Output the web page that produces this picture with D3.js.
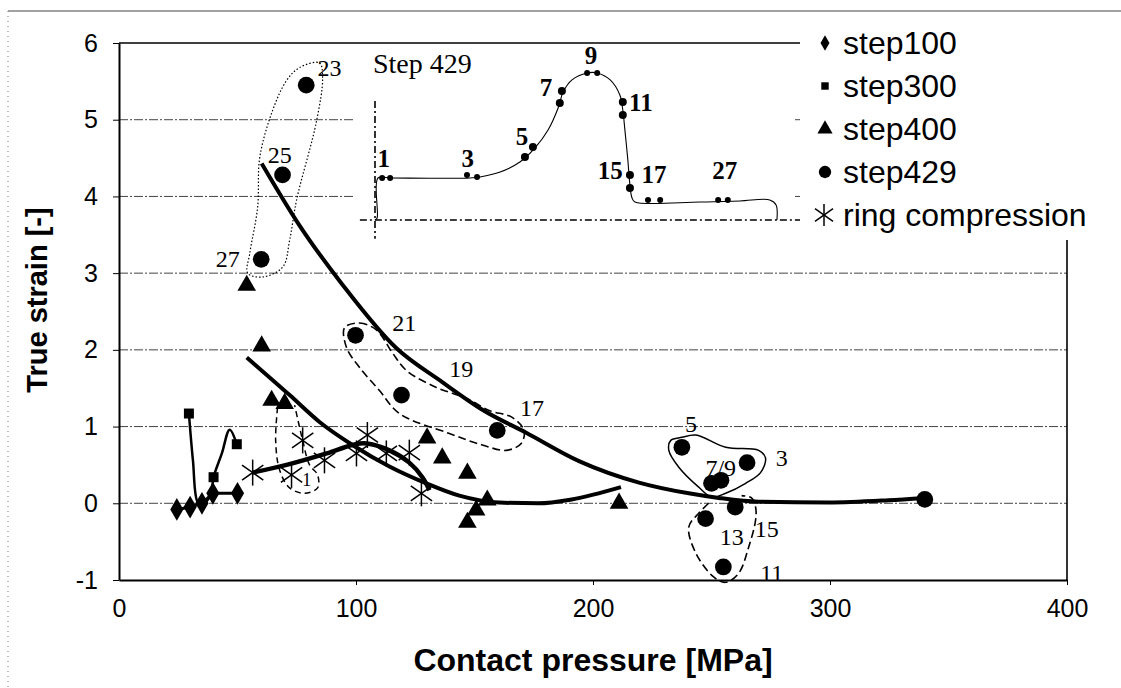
<!DOCTYPE html>
<html>
<head>
<meta charset="utf-8">
<script src="https://cdn.jsdelivr.net/npm/d3@7/dist/d3.min.js"></script>
<style>
  body { margin: 0; background: #fff; }
  svg text { fill: #000; }
</style>
</head>
<body>
<svg id="chart" width="1121" height="688"></svg>
<script>
// ---- data ----
const step100X = [24.4, 30, 35, 39.6, 50];
const step100Y = [-0.08, -0.05, 0.0, 0.13, 0.13];

const step300LineX = [29.5, 31.2, 33.3, 35.4, 38.6, 39.9, 43.4, 46.7, 49.7];
const step300LineY = [1.17, 0.56, 0.01, 0.0, 0.1, 0.34, 0.65, 0.96, 0.77];
const step300X = [29.5, 39.9, 49.7];
const step300Y = [1.17, 0.34, 0.77];

const step400X = [53.9, 60.2, 64.4, 69.9, 130, 136.4, 147, 155.4, 150.7, 147, 211];
const step400Y = [2.84, 2.05, 1.34, 1.30, 0.85, 0.59, 0.39, 0.04, -0.09, -0.25, 0.0];

const step429X = [79, 69, 60, 99.8, 119.2, 159.6, 237.5, 265, 250, 254, 247.5, 260, 255, 340];
const step429Y = [5.45, 4.28, 3.18, 2.19, 1.41, 0.95, 0.73, 0.53, 0.26, 0.30, -0.2, -0.05, -0.83, 0.05];

const ringX = [56.4, 72.8, 77.5, 86.7, 100.2, 104.8, 112.8, 122.5, 127.6];
const ringY = [0.40, 0.37, 0.82, 0.56, 0.65, 0.89, 0.65, 0.66, 0.13];
const ringLineX = [56.4, 70.7, 87.6, 98.5, 104.4, 114.1, 122.5, 128, 131];
const ringLineY = [0.40, 0.50, 0.65, 0.76, 0.78, 0.69, 0.53, 0.34, 0.17];

// trend curves
const fit429X = [60.2, 76.2, 94.3, 117.1, 136.4, 153.3, 171.8, 194.1, 219.4, 240.4, 253.1, 269.9, 299.4, 324.6, 339.8];
const fit429Y = [4.43, 3.62, 2.85, 2.02, 1.58, 1.22, 0.92, 0.55, 0.27, 0.13, 0.07, 0.02, 0.01, 0.04, 0.07];
const fit400X = [53.9, 72, 84.6, 98.5, 114.1, 129.7, 143.6, 160.4, 177, 191, 211.8];
const fit400Y = [1.90, 1.41, 1.06, 0.76, 0.48, 0.26, 0.10, 0.01, 0.0, 0.05, 0.21];

// annotation labels (step429 point numbers)
const noteText = ['23', '25', '27', '21', '19', '17', '5', '3', '7/9', '13', '15', '11', '1'];
const noteX = [88.8, 67.8, 45.9, 120.4, 144.4, 174.3, 241.3, 279.6, 253.9, 258.5, 273.3, 275.4, 79.2];
const noteY = [5.67, 4.54, 3.19, 2.35, 1.75, 1.24, 1.04, 0.59, 0.46, -0.44, -0.33, -0.91, 0.33];

// hand-drawn groupings
const loopDotX = [76.2, 84.6, 85.9, 83.4, 74.9, 72.0, 69.1, 60.6, 54.3, 55.2, 58.5, 59.4, 64.8, 70.7];
const loopDotY = [5.68, 5.74, 5.55, 4.99, 3.95, 3.43, 3.08, 2.95, 3.00, 3.26, 3.86, 4.51, 5.12, 5.51];
const loopMidX = [95.2, 101.5, 108.6, 115.4, 121.3, 133.9, 146.5, 156.2, 165.9, 170.9, 169.7, 163.4, 153.3, 139.4, 118.3, 109.9, 101.5, 96.0];
const loopMidY = [2.29, 2.35, 2.26, 1.96, 1.73, 1.51, 1.37, 1.21, 1.12, 0.95, 0.78, 0.69, 0.76, 0.91, 1.17, 1.47, 1.77, 2.03];
const loopTopX = [237.5, 243.4, 256.0, 269.9, 272.8, 270.7, 264.4, 256.0, 250.1, 244.6, 236.2, 232.0, 232.8];
const loopTopY = [0.86, 0.89, 0.73, 0.69, 0.59, 0.40, 0.26, 0.13, 0.08, 0.21, 0.47, 0.69, 0.82];
const loopLowX = [248.8, 244.6, 240.4, 243.4, 250.9, 256.0, 261.5, 265.7, 268.6, 268.6, 266.9, 262.7];
const loopLowY = [0.0, -0.13, -0.31, -0.65, -0.96, -1.03, -0.91, -0.57, -0.22, -0.05, 0.07, 0.10];
const loopOneX = [66.9, 66.1, 67.8, 72.0, 78.3, 83.8, 83.8, 80.4, 77.5, 74.1];
const loopOneY = [1.25, 0.82, 0.43, 0.20, 0.13, 0.20, 0.37, 0.50, 0.82, 1.28];

// inset "Step 429" (inset units 0..100)
const insetCurveX = [0, 0.5, 0.7, 3.6, 22.6, 25, 29.8, 34.5, 38.1, 41.2, 43.6, 44.8, 46.9, 50.5, 52.9, 56, 58.3, 59, 59.5, 60.2, 60.7, 61.2, 61.9, 77.4, 86.9, 94, 95.5, 95.7];
const insetCurveY = [0, 1.2, 24.7, 24.7, 24.7, 25.3, 28.2, 34.1, 42.4, 52.9, 65.9, 75.3, 82.4, 86.5, 86.5, 82.4, 73.5, 64.7, 52.9, 35.3, 20.6, 12.9, 10.6, 10.6, 11.2, 11.8, 8.8, 0];
const insetDotX = [1.7, 3.6, 21.9, 24.3, 35.7, 37.6, 44, 44.5, 50.5, 52.9, 59, 59, 60.7, 60.7, 65, 67.9, 81.7, 84];
const insetDotY = [24.7, 24.7, 26.5, 25.3, 37.1, 42.9, 68.8, 75.9, 86.5, 86.5, 69.4, 61.8, 26.5, 18.8, 11.8, 11.8, 11.8, 11.8];
const insetDotBig = [0, 0, 0, 0, 1, 1, 1, 1, 0, 0, 1, 1, 1, 1, 0, 0, 0, 0];
const insetLabel = ['1', '3', '5', '7', '9', '11', '15', '17', '27'];
const insetLabelX = [2.1, 22.1, 35, 40.7, 51.4, 63.3, 56, 66.4, 83.3];
const insetLabelY = [31, 31, 44, 73, 92, 64, 24, 22, 24];

const legendNames = ['step100', 'step300', 'step400', 'step429', 'ring compression'];
const yTicks = [-1, 0, 1, 2, 3, 4, 5, 6];
const xTicks = [0, 100, 200, 300, 400];

// ---- drawing ----
const SANS = 'Arial, "Liberation Sans", sans-serif';
const SERIF = '"Times New Roman", "Liberation Serif", serif';

const svg = d3.select('#chart');
const x = d3.scaleLinear().domain([0, 400]).range([119, 1067]);
const y = d3.scaleLinear().domain([-1, 6]).range([580, 43]);
const zip = (xs, ys) => xs.map((v, i) => [v, ys[i]]);
const line = d3.line().x(d => x(d[0])).y(d => y(d[1]));

// page frame bits from the scan
svg.append('line').attr('x1', 8).attr('x2', 1121).attr('y1', 11).attr('y2', 11)
  .attr('stroke', '#444').attr('stroke-width', 1.2);
svg.append('line').attr('x1', 8).attr('x2', 8).attr('y1', 11).attr('y2', 688)
  .attr('stroke', '#777').attr('stroke-dasharray', '1,4');

// grid
svg.append('g')
  .selectAll('line')
  .data(yTicks.filter(t => t > -1 && t < 6))
  .join('line')
  .attr('x1', x(0)).attr('x2', x(400))
  .attr('y1', d => y(d)).attr('y2', d => y(d))
  .attr('stroke', '#444').attr('stroke-width', 1)
  .attr('stroke-dasharray', '9,2,2,2');

// axes
const yAxis = svg.append('g')
  .attr('transform', `translate(${x(0)},0)`)
  .call(d3.axisLeft(y).tickValues(yTicks).tickFormat(d => String(d))
    .tickSize(6).tickPadding(15).tickSizeOuter(0));
const xAxis = svg.append('g')
  .attr('transform', `translate(0,${y(-1)})`)
  .call(d3.axisBottom(x).tickValues(xTicks).tickFormat(d => String(d))
    .tickSize(5).tickPadding(14).tickSizeOuter(0));
[yAxis, xAxis].forEach(g => {
  g.select('.domain').attr('stroke', '#000').attr('stroke-width', 2);
  g.selectAll('.tick line').attr('stroke', '#000');
  g.selectAll('text').attr('font-family', SANS).attr('font-size', 25).attr('fill', '#000');
});
xAxis.selectAll('.tick').filter(d => d === 0).select('line').remove();

// top (6) line and right border
svg.append('line').attr('x1', x(0)).attr('x2', 800).attr('y1', y(6)).attr('y2', y(6))
  .attr('stroke', '#000').attr('stroke-width', 1.6);
svg.append('line').attr('x1', x(400)).attr('x2', x(400)).attr('y1', 240).attr('y2', y(-1))
  .attr('stroke', '#000').attr('stroke-width', 1.6);

// axis titles
svg.append('text')
  .attr('x', (x(0) + x(400)) / 2).attr('y', 671)
  .attr('text-anchor', 'middle')
  .attr('font-family', SANS).attr('font-weight', 'bold').attr('font-size', 32)
  .text('Contact pressure [MPa]');
svg.append('text')
  .attr('transform', 'translate(47,300) rotate(-90)')
  .attr('text-anchor', 'middle')
  .attr('font-family', SANS).attr('font-weight', 'bold').attr('font-size', 29)
  .text('True strain [-]');

// ---- inset ----
svg.append('rect').attr('x', 355).attr('y', y(6) + 1).attr('width', 440).attr('height', 200)
  .attr('fill', '#fff');
const ix = d3.scaleLinear().domain([0, 100]).range([375, 795]);
const iy = d3.scaleLinear().domain([0, 100]).range([220, 50]);
const inset = svg.append('g');
inset.append('line').attr('x1', ix(0)).attr('x2', ix(0)).attr('y1', iy(70)).attr('y2', iy(-11))
  .attr('stroke', '#000').attr('stroke-width', 1.6).attr('stroke-dasharray', '7,3,2,3');
inset.append('line').attr('x1', ix(-3.6)).attr('x2', ix(102)).attr('y1', iy(0)).attr('y2', iy(0))
  .attr('stroke', '#000').attr('stroke-width', 1.6).attr('stroke-dasharray', '7,3,2,3');
inset.append('path')
  .attr('d', d3.line().x(d => ix(d[0])).y(d => iy(d[1])).curve(d3.curveCatmullRom.alpha(0.5))(zip(insetCurveX, insetCurveY)))
  .attr('fill', 'none').attr('stroke', '#000').attr('stroke-width', 1.1);
inset.selectAll('circle')
  .data(zip(insetDotX, insetDotY))
  .join('circle')
  .attr('cx', d => ix(d[0])).attr('cy', d => iy(d[1]))
  .attr('r', (d, i) => insetDotBig[i] ? 4 : 3);
inset.selectAll('text.num')
  .data(insetLabel)
  .join('text')
  .attr('class', 'num')
  .attr('x', (d, i) => ix(insetLabelX[i])).attr('y', (d, i) => iy(insetLabelY[i]))
  .attr('font-family', SERIF).attr('font-weight', 'bold').attr('font-size', 25)
  .attr('text-anchor', 'middle')
  .text(d => d);
inset.append('text').attr('x', 373).attr('y', 73)
  .attr('font-family', SERIF).attr('font-size', 28)
  .text('Step 429');

// ---- legend ----
svg.append('rect').attr('x', 800).attr('y', 12).attr('width', 321).attr('height', 226).attr('fill', '#fff');
const symbols = [d3.symbolDiamond, d3.symbolSquare, d3.symbolTriangle, d3.symbolCircle, null];
const legend = svg.append('g').attr('transform', 'translate(825,0)');
legendNames.forEach((name, i) => {
  const cy = 43 + i * 43;
  if (symbols[i]) {
    legend.append('path')
      .attr('transform', `translate(0,${cy})`)
      .attr('d', d3.symbol().type(symbols[i]).size([70, 55, 100, 120][i])());
  } else {
    drawStar(legend, -1, cy, 11);
  }
  legend.append('text').attr('x', 18).attr('y', cy + 11)
    .attr('font-family', SANS).attr('font-size', 32)
    .text(name);
});

function drawStar(g, cx, cy, r) {
  const s = g.append('g').attr('transform', `translate(${cx},${cy})`)
    .attr('stroke', '#000').attr('stroke-width', 1.5);
  [90, 35, -35].forEach(a => {
    const rad = a * Math.PI / 180;
    s.append('line')
      .attr('x1', -r * Math.cos(rad)).attr('y1', -r * Math.sin(rad))
      .attr('x2', r * Math.cos(rad)).attr('y2', r * Math.sin(rad));
  });
}

// ---- groupings ----
const closed = d3.line().x(d => x(d[0])).y(d => y(d[1])).curve(d3.curveCatmullRomClosed.alpha(0.5));
const open = d3.line().x(d => x(d[0])).y(d => y(d[1])).curve(d3.curveCatmullRom.alpha(0.5));
svg.append('path').attr('d', closed(zip(loopDotX, loopDotY)))
  .attr('fill', 'none').attr('stroke', '#000').attr('stroke-width', 1.2).attr('stroke-dasharray', '1.5,2');
svg.append('path').attr('d', closed(zip(loopMidX, loopMidY)))
  .attr('fill', 'none').attr('stroke', '#000').attr('stroke-width', 1.6).attr('stroke-dasharray', '8,4');
svg.append('path').attr('d', closed(zip(loopTopX, loopTopY)))
  .attr('fill', 'none').attr('stroke', '#000').attr('stroke-width', 1.5);
svg.append('path').attr('d', open(zip(loopLowX, loopLowY)))
  .attr('fill', 'none').attr('stroke', '#000').attr('stroke-width', 1.6).attr('stroke-dasharray', '8,4');
svg.append('path').attr('d', open(zip(loopOneX, loopOneY)))
  .attr('fill', 'none').attr('stroke', '#000').attr('stroke-width', 1.5).attr('stroke-dasharray', '6,4');

// ---- lines ----
const smooth = d3.line().x(d => x(d[0])).y(d => y(d[1])).curve(d3.curveCatmullRom.alpha(0.5));
const mono = d3.line().x(d => x(d[0])).y(d => y(d[1])).curve(d3.curveMonotoneX);
svg.append('path').attr('d', mono(zip(fit429X, fit429Y)))
  .attr('fill', 'none').attr('stroke', '#000').attr('stroke-width', 4);
svg.append('path').attr('d', mono(zip(fit400X, fit400Y)))
  .attr('fill', 'none').attr('stroke', '#000').attr('stroke-width', 4);
svg.append('path').attr('d', smooth(zip(ringLineX, ringLineY)))
  .attr('fill', 'none').attr('stroke', '#000').attr('stroke-width', 4.5);
svg.append('path').attr('d', smooth(zip(step300LineX, step300LineY)))
  .attr('fill', 'none').attr('stroke', '#000').attr('stroke-width', 2.5);
svg.append('path').attr('d', line(zip(step100X, step100Y)))
  .attr('fill', 'none').attr('stroke', '#000').attr('stroke-width', 3);

// ---- markers ----
const mark = (xs, ys, type, size) => svg.append('g').selectAll('path')
  .data(zip(xs, ys)).join('path')
  .attr('transform', d => `translate(${x(d[0])},${y(d[1])})`)
  .attr('d', d3.symbol().type(type).size(size)());
mark(step100X, step100Y, d3.symbolDiamond, 150);
mark(step300X, step300Y, d3.symbolSquare, 100);
mark(step400X, step400Y, d3.symbolTriangle, 150);
mark(step429X, step429Y, d3.symbolCircle, 220);
const stars = svg.append('g');
zip(ringX, ringY).forEach(d => drawStar(stars, x(d[0]), y(d[1]), 13));

// ---- point numbers ----
svg.append('g').selectAll('text')
  .data(noteText).join('text')
  .attr('x', (d, i) => x(noteX[i])).attr('y', (d, i) => y(noteY[i]) + 8)
  .attr('text-anchor', 'middle')
  .attr('font-family', SERIF).attr('font-size', (d, i) => d === '1' ? 18 : 24)
  .text(d => d);
</script>
</body>
</html>
